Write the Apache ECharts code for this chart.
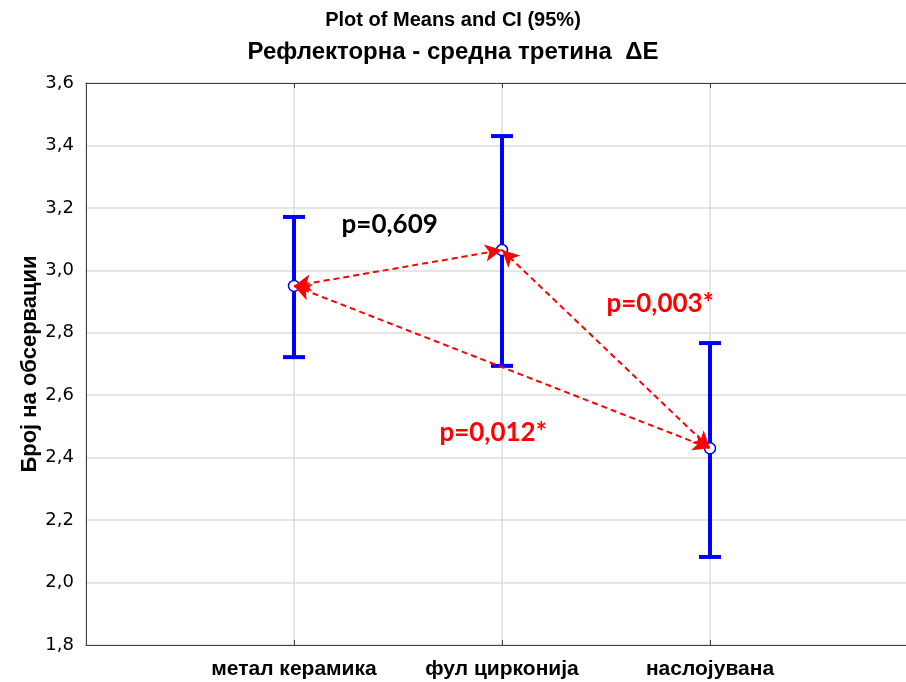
<!DOCTYPE html>
<html>
<head>
<meta charset="utf-8">
<script src="https://cdn.jsdelivr.net/npm/echarts@6/dist/echarts.min.js"></script>
<style>
  html, body { margin: 0; padding: 0; background: #fff; }
  #chart { width: 906px; height: 682px; }
</style>
</head>
<body>
<div id="chart"></div>
<script>
// Groups and their means with 95% confidence limits
const categories = ['метал керамика', 'фул циркониja', 'наслојувана'];
const means = [2.95, 3.065, 2.43];
const ciLow = [2.722, 2.694, 2.082];
const ciHigh = [3.171, 3.430, 2.767];
const yTicks = [1.8, 2.0, 2.2, 2.4, 2.6, 2.8, 3.0, 3.2, 3.4, 3.6];

// Pairwise comparisons: [group a, group b, p-value text, significant]
const comparisons = [
  [0, 1, 'p=0,609', false],
  [1, 2, 'p=0,003*', true],
  [0, 2, 'p=0,012*', true]
];

const comma = v => v.toFixed(1).replace('.', ',');
const sans = '"Liberation Sans", Arial, sans-serif';

const chart = echarts.init(document.getElementById('chart'));

const errorBars = categories.map((c, i) => [i + 1, ciLow[i], ciHigh[i]]);
const meanPoints = categories.map((c, i) => [i + 1, means[i]]);

// where each p-value text sits, in axis units
const pLabelSpots = [[1.46, 3.145], [2.76, 2.892], [1.957, 2.479]];

chart.setOption({
  animation: false,
  title: [
    { text: 'Plot of Means and CI (95%)', left: 'center', top: 5,
      textStyle: { fontFamily: sans, fontSize: 20, fontWeight: 'bold', color: '#000' } },
    { text: 'Рефлекторна - средна третина  ΔE', left: 'center', top: 35,
      textStyle: { fontFamily: sans, fontSize: 24, fontWeight: 'bold', color: '#000' } }
  ],
  grid: { left: 86, top: 83, width: 832, height: 562, containLabel: false, outerBoundsMode: 'none' },
  xAxis: [
    {
      type: 'value', min: 0, max: 4, interval: 1, position: 'bottom',
      axisLine: { lineStyle: { color: '#404040', width: 1 } },
      axisTick: { inside: true, length: 5, lineStyle: { color: '#404040' } },
      splitLine: { show: true, lineStyle: { color: '#dcdcdc', width: 1.5 } },
      axisLabel: {
        margin: 14,
        fontFamily: sans, fontSize: 21, fontWeight: 'bold', color: '#000',
        formatter: v => categories[v - 1] || ''
      }
    },
    {
      type: 'value', min: 0, max: 4, interval: 1, position: 'top',
      axisLine: { show: true, lineStyle: { color: '#404040', width: 1 } },
      axisTick: { show: true, inside: true, length: 5, lineStyle: { color: '#404040' } },
      axisLabel: { show: false },
      splitLine: { show: false }
    }
  ],
  yAxis: {
    type: 'value', min: 1.8, max: 3.6, interval: 0.2,
    name: 'Број на обсервации', nameLocation: 'middle', nameGap: 45,
    nameMoveOverlap: false,
    nameTextStyle: { fontFamily: sans, fontSize: 22, fontWeight: 'bold', color: '#000' },
    axisLine: { show: true, lineStyle: { color: '#404040', width: 1 } },
    axisTick: { show: false },
    splitLine: { show: true, lineStyle: { color: '#dcdcdc', width: 1.5 } },
    axisLabel: {
      margin: 12,
      fontFamily: '"DejaVu Sans", sans-serif', fontSize: 18, color: '#000',
      formatter: v => yTicks.some(t => Math.abs(t - v) < 1e-6) ? comma(v) : ''
    }
  },
  series: [
    {
      // confidence interval whiskers
      type: 'custom',
      data: errorBars,
      z: 3,
      renderItem: (params, api) => {
        const x = api.value(0);
        const lo = api.coord([x, api.value(1)]);
        const hi = api.coord([x, api.value(2)]);
        const cap = 11;
        const style = { stroke: '#0000ff', lineWidth: 4 };
        return {
          type: 'group',
          children: [
            { type: 'line', shape: { x1: lo[0], y1: lo[1], x2: hi[0], y2: hi[1] }, style },
            { type: 'line', shape: { x1: hi[0] - cap, y1: hi[1], x2: hi[0] + cap, y2: hi[1] }, style },
            { type: 'line', shape: { x1: lo[0] - cap, y1: lo[1], x2: lo[0] + cap, y2: lo[1] }, style }
          ]
        };
      }
    },
    {
      // group means, with the comparison arrows between them
      type: 'scatter',
      data: meanPoints,
      symbol: 'circle',
      symbolSize: 11,
      z: 4,
      itemStyle: { color: '#fff', borderColor: '#0000ff', borderWidth: 1.5, opacity: 1 },
      markLine: {
        silent: true,
        symbol: ['arrow', 'arrow'],
        symbolSize: [13, 17],
        label: { show: false },
        lineStyle: { color: '#ff0000', type: [6, 4], width: 2, opacity: 1 },
        data: comparisons.map(c => [
          { coord: meanPoints[c[0]] },
          { coord: meanPoints[c[1]] }
        ])
      }
    },
    {
      // p-value annotations; significant ones in red
      type: 'scatter',
      symbolSize: 1,
      z: 5,
      itemStyle: { color: 'rgba(0,0,0,0)', opacity: 1 },
      data: comparisons.map((c, i) => ({
        value: pLabelSpots[i],
        name: c[2],
        label: { color: c[3] ? '#ff0000' : '#000000' }
      })),
      label: {
        show: true, position: 'inside',
        fontFamily: 'Lato, "Open Sans", sans-serif', fontSize: 26, fontWeight: 'bold',
        formatter: p => p.name
      }
    }
  ]
});
</script>
</body>
</html>
